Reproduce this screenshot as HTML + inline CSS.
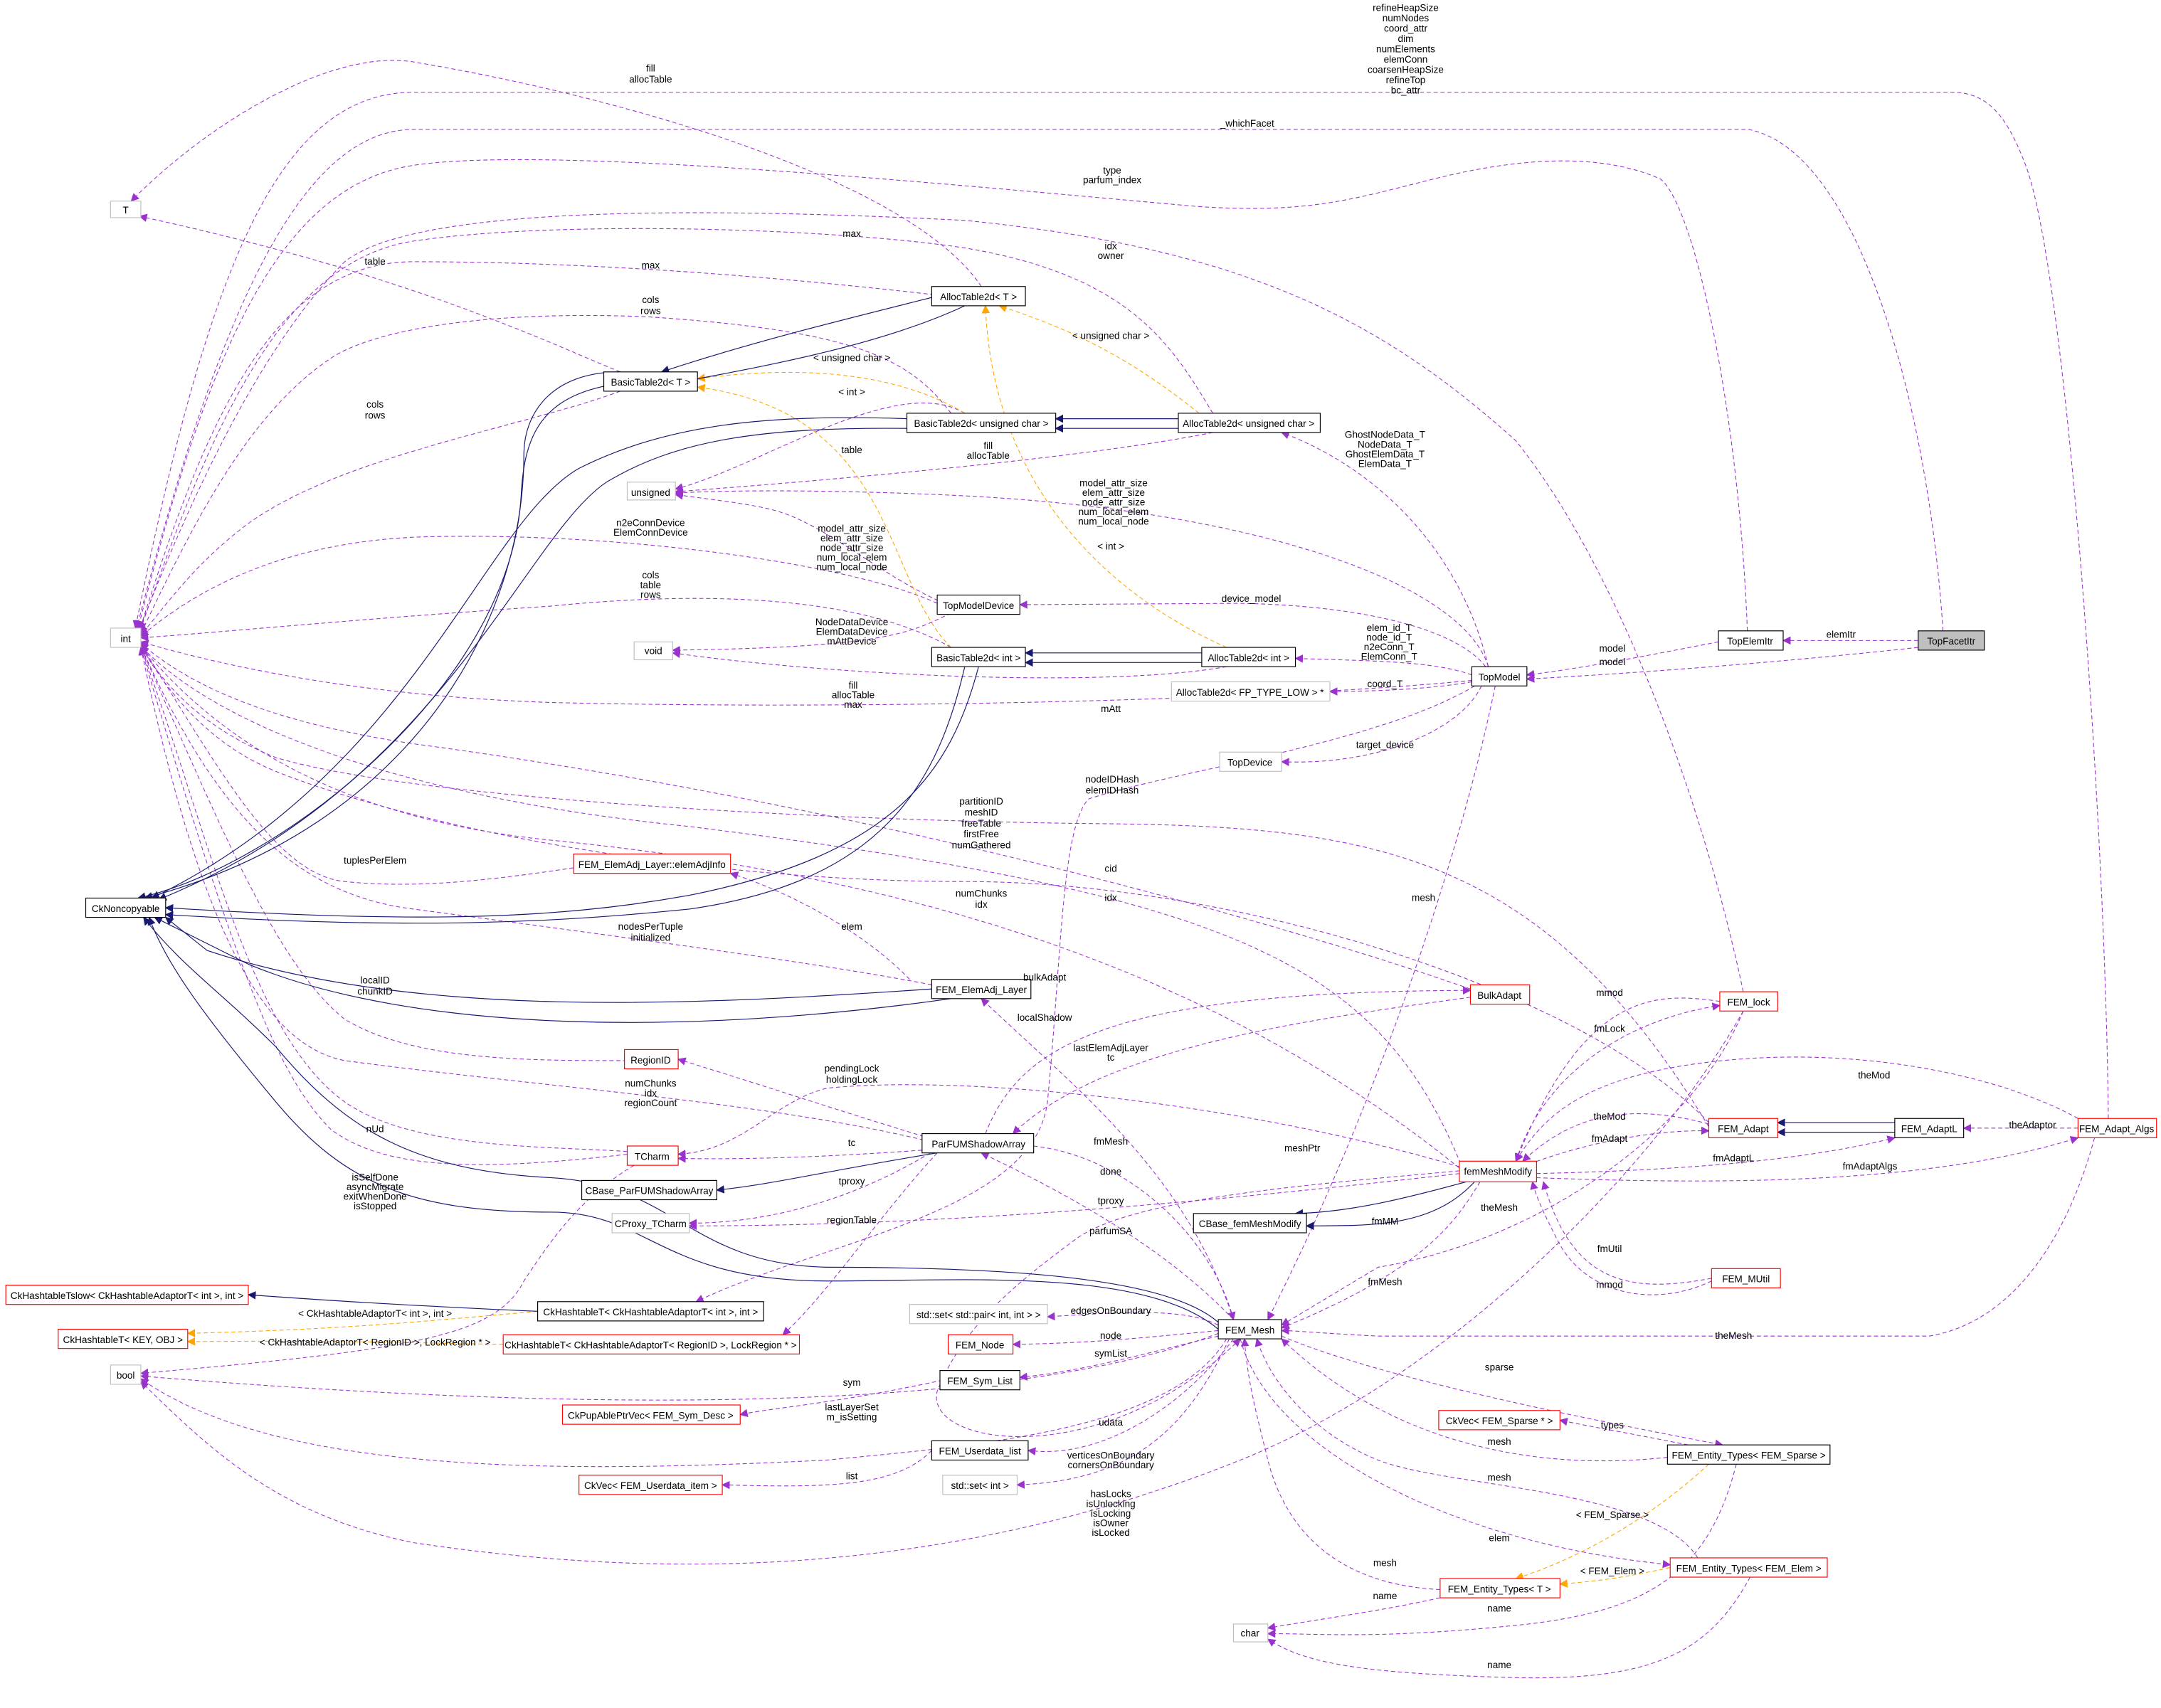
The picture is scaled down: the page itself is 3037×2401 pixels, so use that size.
<!DOCTYPE html>
<html><head><meta charset="utf-8"><style>
html,body{margin:0;padding:0;background:#fff}
svg{display:block}
text{font-family:"Liberation Sans",sans-serif;font-size:7px;fill:#000;text-anchor:middle}
.b{fill:#fff;stroke:#000;stroke-width:0.6}
.r{fill:#fff;stroke:#f00;stroke-width:0.6}
.g{fill:#fff;stroke:#bfbfbf;stroke-width:0.6}
.p{fill:none;stroke:#9a32cd;stroke-width:0.55;stroke-dasharray:3,2}
.o{fill:none;stroke:#ffa500;stroke-width:0.55;stroke-dasharray:3,2}
.n{fill:none;stroke:#191970;stroke-width:0.6}
</style></head><body>
<svg width="3037" height="2401" viewBox="0 0 1568 1240" xmlns="http://www.w3.org/2000/svg">
<defs>
<marker id="mp" viewBox="0 0 10 10" refX="9" refY="5" markerWidth="6" markerHeight="6" orient="auto-start-reverse" markerUnits="userSpaceOnUse"><path d="M0,0L10,5L0,10z" fill="#9a32cd"/></marker>
<marker id="mo" viewBox="0 0 10 10" refX="9" refY="5" markerWidth="6" markerHeight="6" orient="auto-start-reverse" markerUnits="userSpaceOnUse"><path d="M0,0L10,5L0,10z" fill="#ffa500"/></marker>
<marker id="mn" viewBox="0 0 10 10" refX="9" refY="5" markerWidth="6" markerHeight="6" orient="auto-start-reverse" markerUnits="userSpaceOnUse"><path d="M0,0L10,5L0,10z" fill="#191970"/></marker>
</defs>

<g marker-end="url(#mp)">
<path class="p" d="M1530,812 C1528,600 1500,200 1470,120 C1455,80 1440,67 1416,67 L300,67 C200,67 150,200 98,456"/>
<path class="p" d="M1410,458 C1400,300 1350,110 1269,94 L300,94 C220,94 160,220 99,456"/>
<path class="p" d="M1268,458 C1262,300 1230,150 1205,130 C1160,110 1100,115 1040,130 C980,145 950,155 870,150 C700,135 400,105 300,120 C200,135 150,260 100,456"/>
<path class="p" d="M1265,720 C1240,600 1180,420 1100,320 C1000,230 900,180 700,160 C500,150 300,150 250,190 C200,240 150,330 101,457"/>
<path class="p" d="M712,208 C660,130 450,70 300,45 C240,35 150,90 95,146"/>
<path class="p" d="M450,270 C400,250 300,200 101,157"/>
<path class="p" d="M678,214 C600,205 450,190 300,190 C200,190 150,300 101,458"/>
<path class="p" d="M880,300 C850,250 820,200 700,180 C600,165 400,160 300,175 C200,190 150,320 101,459"/>
<path class="p" d="M690,300 C660,260 620,240 470,230 C350,225 270,240 240,260 C180,300 140,380 102,460"/>
<path class="p" d="M450,284 C380,310 250,330 180,380 C140,410 120,440 102,461"/>
<path class="p" d="M690,470 C620,430 500,430 400,440 C250,450 150,460 102,463"/>
<path class="p" d="M680,438 C620,410 450,385 300,390 C200,395 140,430 102,462"/>
<path class="p" d="M1068,494 C900,510 600,515 400,510 C250,505 150,480 102,466"/>
<path class="p" d="M416,630 C350,640 300,645 250,640 C200,635 160,560 102,468"/>
<path class="p" d="M676,715 C600,700 450,680 300,660 C220,650 160,600 102,469"/>
<path class="p" d="M1067,718 C900,660 600,580 300,540 C200,525 140,500 102,467"/>
<path class="p" d="M1059,848 C900,720 700,640 400,610 C250,595 160,540 102,469"/>
<path class="p" d="M1240,815 C1150,720 900,640 700,640 C500,640 300,600 200,560 C150,540 120,500 102,469"/>
<path class="p" d="M1060,845 C1000,700 900,650 500,600 C300,580 160,530 102,469"/>
<path class="p" d="M1240,818 C1120,620 1000,600 800,598 C600,596 300,580 200,550 C150,530 120,500 102,469"/>
<path class="p" d="M680,830 C560,800 400,790 250,770 C200,760 150,700 102,470"/>
<path class="p" d="M455,770 C380,770 300,770 250,740 C200,700 160,600 102,470"/>
<path class="p" d="M455,838 C350,850 280,850 240,820 C200,780 170,700 102,470"/>
<path class="p" d="M455,836 C400,832 300,835 250,800 C180,750 150,600 102,470"/>
</g>
<g marker-end="url(#mp)">
<path class="p" d="M700,300 C650,270 550,340 490,355"/>
<path class="p" d="M880,314 C800,330 650,345 490,357"/>
<path class="p" d="M1080,484 C1060,420 900,370 700,360 C600,355 520,356 490,358"/>
<path class="p" d="M690,440 C640,420 600,380 560,370 C540,365 510,362 490,359"/>
<path class="p" d="M690,445 C660,460 640,470 488,472"/>
<path class="p" d="M890,484 C800,500 600,490 488,474"/>
<path class="p" d="M1078,484 C1060,460 1000,440 900,438 L740,439"/>
<path class="p" d="M1068,490 C1040,480 1000,480 940,478"/>
<path class="p" d="M1080,484 C1060,400 1000,340 930,314"/>
<path class="p" d="M1068,495 C1040,500 1000,502 965,502"/>
<path class="p" d="M1075,498 C1060,530 1000,556 930,553"/>
<path class="p" d="M1247,466 C1200,475 1150,485 1108,490"/>
<path class="p" d="M1392,470 C1300,480 1200,488 1108,493"/>
<path class="p" d="M1392,465 L1294,465"/>
<path class="p" d="M1085,498 C1060,620 1000,800 920,958"/>
<path class="p" d="M1070,498 C1000,540 850,560 790,580 C770,600 770,700 760,800 C750,880 600,900 505,945"/>
<path class="p" d="M660,711 C630,680 580,650 530,634"/>
<path class="p" d="M715,823 C740,760 800,720 1067,719"/>
<path class="p" d="M1067,724 C950,740 800,760 735,823"/>
<path class="p" d="M895,958 C860,850 780,790 712,725"/>
<path class="p" d="M1059,847 C900,800 700,780 600,790 C560,800 540,835 492,838"/>
<path class="p" d="M680,828 C620,810 560,790 492,769"/>
<path class="p" d="M669,835 C600,840 540,842 492,841"/>
<path class="p" d="M675,837 C620,870 560,888 500,888"/>
<path class="p" d="M1059,852 C900,870 700,890 500,890"/>
<path class="p" d="M680,837 C640,880 600,940 568,969"/>
<path class="p" d="M460,846 C420,870 400,900 380,930 C360,970 300,980 102,997"/>
<path class="p" d="M750,832 C820,840 880,900 895,958"/>
<path class="p" d="M895,958 C840,900 760,860 712,837"/>
<path class="p" d="M1059,850 C950,860 820,870 780,900 C740,930 700,960 680,1010 C670,1050 800,1070 900,972"/>
<path class="p" d="M1248,727 C1200,720 1150,720 1100,843"/>
<path class="p" d="M1100,843 C1120,780 1180,740 1248,730"/>
<path class="p" d="M1240,816 C1180,800 1140,810 1105,843"/>
<path class="p" d="M1110,845 C1150,830 1200,820 1240,821"/>
<path class="p" d="M1115,852 C1200,850 1300,845 1375,826"/>
<path class="p" d="M1115,855 C1250,860 1400,860 1508,826"/>
<path class="p" d="M1508,812 C1450,780 1350,760 1250,770 C1150,780 1120,810 1100,843"/>
<path class="p" d="M1508,819 L1425,819"/>
<path class="p" d="M1074,858 C1060,880 1040,920 930,964"/>
<path class="p" d="M1242,928 C1180,940 1140,930 1120,858"/>
<path class="p" d="M1242,930 C1200,950 1150,940 1130,900 C1120,880 1115,870 1112,858"/>
<path class="p" d="M1520,826 C1500,900 1460,960 1400,970 L1000,970 C960,968 940,966 930,966"/>
<path class="p" d="M1265,734 C1230,820 1120,900 1000,920 L930,962"/>
<path class="p" d="M884,962 C860,950 820,952 760,956"/>
<path class="p" d="M884,966 C840,970 800,975 735,976"/>
<path class="p" d="M884,970 C840,980 790,995 740,1000"/>
<path class="p" d="M684,1002 C600,1020 560,1022 537,1027"/>
<path class="p" d="M895,972 C860,1020 800,1060 746,1053"/>
<path class="p" d="M676,1053 C650,1080 600,1080 524,1078"/>
<path class="p" d="M892,972 C860,1040 820,1075 738,1078"/>
<path class="p" d="M884,968 C800,1000 600,1040 102,999"/>
<path class="p" d="M890,972 C850,1040 700,1050 600,1060 C400,1070 200,1070 102,1001"/>
<path class="p" d="M1265,734 C1200,850 1050,1000 900,1060 C700,1140 500,1150 300,1120 C200,1100 150,1050 102,1003"/>
<path class="p" d="M930,970 C1000,1000 1150,1030 1250,1049"/>
<path class="p" d="M1230,1050 C1180,1040 1150,1035 1132,1031"/>
<path class="p" d="M1210,1058 C1100,1070 1000,1040 930,972"/>
<path class="p" d="M1232,1131 C1200,1080 1050,1080 1000,1060 C950,1040 920,1000 912,972"/>
<path class="p" d="M900,972 C920,1050 1050,1120 1212,1136"/>
<path class="p" d="M1045,1154 C960,1150 930,1100 920,1060 C910,1020 905,1000 903,972"/>
<path class="p" d="M1045,1160 C1000,1170 960,1175 920,1182"/>
<path class="p" d="M1260,1063 C1240,1140 1200,1170 1100,1180 C1000,1190 960,1186 920,1186"/>
<path class="p" d="M1270,1145 C1240,1200 1200,1220 1100,1218 C1000,1215 950,1210 920,1190"/>
</g>
<g marker-end="url(#mo)">
<path class="o" d="M870,300 C820,260 780,240 725,222"/>
<path class="o" d="M700,300 C650,270 580,265 506,275"/>
<path class="o" d="M690,470 C640,420 650,300 506,281"/>
<path class="o" d="M890,470 C800,430 720,350 715,222"/>
<path class="o" d="M390,952 C300,960 250,965 136,968"/>
<path class="o" d="M365,976 C300,975 250,973 136,974"/>
<path class="o" d="M1240,1063 C1200,1100 1150,1130 1100,1146"/>
<path class="o" d="M1212,1138 C1180,1145 1160,1148 1132,1150"/>
</g>
<g marker-end="url(#mn)">
<path class="n" d="M676,216 C600,235 540,250 480,270"/>
<path class="n" d="M700,222 C640,250 560,265 490,278"/>
<path class="n" d="M855,304 L766,304"/>
<path class="n" d="M855,311 L766,311"/>
<path class="n" d="M872,474 L744,474"/>
<path class="n" d="M872,481 L744,481"/>
<path class="n" d="M450,270 C400,270 380,300 380,330 C380,450 300,600 105,652"/>
<path class="n" d="M440,280 C390,290 380,320 378,360 C370,500 200,630 100,652"/>
<path class="n" d="M658,304 C550,300 480,310 420,340 C350,380 300,560 110,652"/>
<path class="n" d="M658,311 C550,310 490,320 440,350 C380,390 320,570 115,653"/>
<path class="n" d="M710,484 C690,560 650,620 500,650 C400,668 300,670 120,659"/>
<path class="n" d="M700,484 C680,570 640,640 500,660 C400,670 300,675 120,664"/>
<path class="n" d="M676,718 C500,730 300,740 150,690 L120,666"/>
<path class="n" d="M690,725 C500,752 300,750 180,700 L112,666"/>
<path class="n" d="M884,965 C830,920 700,930 600,930 C480,930 470,880 400,880 C300,880 250,860 200,800 C150,740 120,700 108,666"/>
<path class="n" d="M884,960 C850,930 750,920 600,920 C500,918 490,860 400,855 C300,850 250,820 200,760 C160,720 130,700 104,666"/>
<path class="n" d="M680,837 C600,850 560,860 520,864"/>
<path class="n" d="M390,952 C300,948 250,945 180,940"/>
<path class="n" d="M1064,858 C1020,870 980,880 940,881"/>
<path class="n" d="M1070,858 C1040,890 1000,890 948,890"/>
<path class="n" d="M1375,815 L1290,815"/>
<path class="n" d="M1375,822 L1290,822"/>
</g>

<rect class="g" x="80" y="146" width="22" height="12"/><text x="91" y="155">T</text>
<rect class="g" x="80" y="456" width="22" height="14"/><text x="91" y="466">int</text>
<rect class="g" x="455" y="350" width="35" height="13"/><text x="472" y="360">unsigned</text>
<rect class="g" x="460" y="466" width="28" height="13"/><text x="474" y="475">void</text>
<rect class="g" x="80" y="991" width="22" height="14"/><text x="91" y="1001">bool</text>
<rect class="g" x="895" y="1179" width="25" height="13"/><text x="907" y="1188">char</text>
<rect class="b" x="62" y="652" width="58" height="14"/><text x="91" y="662">CkNoncopyable</text>
<rect class="b" x="676" y="208" width="68" height="14"/><text x="710" y="218">AllocTable2d&lt; T &gt;</text>
<rect class="b" x="438" y="270" width="68" height="14"/><text x="472" y="280">BasicTable2d&lt; T &gt;</text>
<rect class="b" x="658" y="300" width="108" height="14"/><text x="712" y="310">BasicTable2d&lt; unsigned char &gt;</text>
<rect class="b" x="855" y="300" width="103" height="14"/><text x="906" y="310">AllocTable2d&lt; unsigned char &gt;</text>
<rect class="b" x="680" y="432" width="60" height="14"/><text x="710" y="442">TopModelDevice</text>
<rect class="b" x="676" y="470" width="68" height="14"/><text x="710" y="480">BasicTable2d&lt; int &gt;</text>
<rect class="b" x="872" y="470" width="68" height="14"/><text x="906" y="480">AllocTable2d&lt; int &gt;</text>
<rect class="g" x="850" y="495" width="115" height="14"/><text x="907" y="505">AllocTable2d&lt; FP_TYPE_LOW &gt; *</text>
<rect class="g" x="885" y="546" width="45" height="14"/><text x="907" y="556">TopDevice</text>
<rect class="b" x="1068" y="484" width="40" height="14"/><text x="1088" y="494">TopModel</text>
<rect class="b" x="1247" y="458" width="47" height="14"/><text x="1270" y="468">TopElemItr</text>
<rect x="1392" y="458" width="48" height="14" fill="#bfbfbf" stroke="#000" stroke-width="0.6"/><text x="1416" y="468">TopFacetItr</text>
<rect class="r" x="416" y="620" width="114" height="14"/><text x="473" y="630">FEM_ElemAdj_Layer::elemAdjInfo</text>
<rect class="b" x="676" y="711" width="72" height="14"/><text x="712" y="721">FEM_ElemAdj_Layer</text>
<rect class="r" x="1067" y="715" width="43" height="14"/><text x="1088" y="725">BulkAdapt</text>
<rect class="r" x="1248" y="720" width="42" height="14"/><text x="1269" y="730">FEM_lock</text>
<rect class="r" x="453" y="762" width="39" height="14"/><text x="472" y="772">RegionID</text>
<rect class="b" x="669" y="823" width="81" height="14"/><text x="710" y="833">ParFUMShadowArray</text>
<rect class="r" x="455" y="832" width="37" height="14"/><text x="473" y="842">TCharm</text>
<rect class="b" x="422" y="857" width="98" height="14"/><text x="471" y="867">CBase_ParFUMShadowArray</text>
<rect class="g" x="444" y="881" width="56" height="14"/><text x="472" y="891">CProxy_TCharm</text>
<rect class="r" x="1059" y="843" width="56" height="15"/><text x="1087" y="853">femMeshModify</text>
<rect class="r" x="1240" y="812" width="50" height="14"/><text x="1265" y="822">FEM_Adapt</text>
<rect class="b" x="1375" y="812" width="50" height="14"/><text x="1400" y="822">FEM_AdaptL</text>
<rect class="r" x="1508" y="812" width="57" height="14"/><text x="1536" y="822">FEM_Adapt_Algs</text>
<rect class="b" x="866" y="881" width="82" height="14"/><text x="907" y="891">CBase_femMeshModify</text>
<rect class="r" x="1242" y="921" width="50" height="14"/><text x="1267" y="931">FEM_MUtil</text>
<rect class="r" x="4" y="933" width="176" height="14"/><text x="92" y="943">CkHashtableTslow&lt; CkHashtableAdaptorT&lt; int &gt;, int &gt;</text>
<rect class="r" x="42" y="965" width="94" height="14"/><text x="89" y="975">CkHashtableT&lt; KEY, OBJ &gt;</text>
<rect class="b" x="390" y="945" width="164" height="14"/><text x="472" y="955">CkHashtableT&lt; CkHashtableAdaptorT&lt; int &gt;, int &gt;</text>
<rect class="r" x="365" y="969" width="215" height="14"/><text x="472" y="979">CkHashtableT&lt; CkHashtableAdaptorT&lt; RegionID &gt;, LockRegion * &gt;</text>
<rect class="g" x="660" y="947" width="100" height="14"/><text x="710" y="957">std::set&lt; std::pair&lt; int, int &gt; &gt;</text>
<rect class="r" x="688" y="969" width="47" height="14"/><text x="711" y="979">FEM_Node</text>
<rect class="b" x="884" y="958" width="46" height="14"/><text x="907" y="968">FEM_Mesh</text>
<rect class="b" x="682" y="995" width="58" height="14"/><text x="711" y="1005">FEM_Sym_List</text>
<rect class="r" x="408" y="1020" width="129" height="14"/><text x="472" y="1030">CkPupAblePtrVec&lt; FEM_Sym_Desc &gt;</text>
<rect class="b" x="676" y="1046" width="70" height="14"/><text x="711" y="1056">FEM_Userdata_list</text>
<rect class="r" x="420" y="1071" width="104" height="14"/><text x="472" y="1081">CkVec&lt; FEM_Userdata_item &gt;</text>
<rect class="g" x="684" y="1071" width="54" height="14"/><text x="711" y="1081">std::set&lt; int &gt;</text>
<rect class="r" x="1044" y="1024" width="88" height="14"/><text x="1088" y="1034">CkVec&lt; FEM_Sparse * &gt;</text>
<rect class="b" x="1210" y="1049" width="118" height="14"/><text x="1269" y="1059">FEM_Entity_Types&lt; FEM_Sparse &gt;</text>
<rect class="r" x="1212" y="1131" width="114" height="14"/><text x="1269" y="1141">FEM_Entity_Types&lt; FEM_Elem &gt;</text>
<rect class="r" x="1045" y="1146" width="87" height="14"/><text x="1088" y="1156">FEM_Entity_Types&lt; T &gt;</text>

<text x="1020" y="8">refineHeapSize</text><text x="1020" y="15.5">numNodes</text><text x="1020" y="23">coord_attr</text><text x="1020" y="30.5">dim</text><text x="1020" y="38">numElements</text><text x="1020" y="45.5">elemConn</text><text x="1020" y="53">coarsenHeapSize</text><text x="1020" y="60.5">refineTop</text><text x="1020" y="68">bc_attr</text>
<text x="905" y="92">_whichFacet</text>
<text x="807" y="126">type</text><text x="807" y="133">parfum_index</text>
<text x="472" y="52">fill</text><text x="472" y="60">allocTable</text>
<text x="806" y="181">idx</text><text x="806" y="188">owner</text>
<text x="272" y="192">table</text>
<text x="472" y="195">max</text>
<text x="618" y="172">max</text>
<text x="472" y="220">cols</text><text x="472" y="228">rows</text>
<text x="272" y="296">cols</text><text x="272" y="304">rows</text>
<text x="806" y="246">&lt; unsigned char &gt;</text>
<text x="618" y="262">&lt; unsigned char &gt;</text>
<text x="618" y="287">&lt; int &gt;</text>
<text x="618" y="329">table</text>
<text x="717" y="326">fill</text><text x="717" y="333">allocTable</text>
<text x="1005" y="318">GhostNodeData_T</text><text x="1005" y="325">NodeData_T</text><text x="1005" y="332">GhostElemData_T</text><text x="1005" y="339">ElemData_T</text>
<text x="808" y="353">model_attr_size</text><text x="808" y="360">elem_attr_size</text><text x="808" y="367">node_attr_size</text><text x="808" y="374">num_local_elem</text><text x="808" y="381">num_local_node</text>
<text x="618" y="386">model_attr_size</text><text x="618" y="393">elem_attr_size</text><text x="618" y="400">node_attr_size</text><text x="618" y="407">num_local_elem</text><text x="618" y="414">num_local_node</text>
<text x="472" y="382">n2eConnDevice</text><text x="472" y="389">ElemConnDevice</text>
<text x="806" y="399">&lt; int &gt;</text>
<text x="472" y="420">cols</text><text x="472" y="427">table</text><text x="472" y="434">rows</text>
<text x="908" y="437">device_model</text>
<text x="618" y="454">NodeDataDevice</text><text x="618" y="461">ElemDataDevice</text><text x="618" y="468">mAttDevice</text>
<text x="1008" y="458">elem_id_T</text><text x="1008" y="465">node_id_T</text><text x="1008" y="472">n2eConn_T</text><text x="1008" y="479">ElemConn_T</text>
<text x="619" y="500">fill</text><text x="619" y="507">allocTable</text><text x="619" y="514">max</text>
<text x="1005" y="499">coord_T</text>
<text x="806" y="517">mAtt</text>
<text x="1170" y="473">model</text>
<text x="1170" y="483">model</text>
<text x="1336" y="463">elemItr</text>
<text x="1005" y="543">target_device</text>
<text x="807" y="568">nodeIDHash</text><text x="807" y="576">elemIDHash</text>
<text x="712" y="584">partitionID</text><text x="712" y="592">meshID</text><text x="712" y="600">freeTable</text><text x="712" y="608">firstFree</text><text x="712" y="616">numGathered</text>
<text x="806" y="633">cid</text>
<text x="272" y="627">tuplesPerElem</text>
<text x="806" y="654">idx</text>
<text x="1033" y="654">mesh</text>
<text x="712" y="651">numChunks</text><text x="712" y="659">idx</text>
<text x="618" y="675">elem</text>
<text x="472" y="675">nodesPerTuple</text><text x="472" y="683">initialized</text>
<text x="272" y="714">localID</text><text x="272" y="722">chunkID</text>
<text x="758" y="712">bulkAdapt</text>
<text x="758" y="741">localShadow</text>
<text x="1168" y="723">mmod</text>
<text x="1168" y="749">fmLock</text>
<text x="806" y="770">tc</text>
<text x="806" y="763">lastElemAdjLayer</text>
<text x="618" y="778">pendingLock</text><text x="618" y="786">holdingLock</text>
<text x="472" y="789">numChunks</text><text x="472" y="796">idx</text><text x="472" y="803">regionCount</text>
<text x="1360" y="783">theMod</text>
<text x="1168" y="813">theMod</text>
<text x="1475" y="819">theAdaptor</text>
<text x="272" y="822">nUd</text>
<text x="806" y="831">fmMesh</text>
<text x="945" y="836">meshPtr</text>
<text x="1168" y="829">fmAdapt</text>
<text x="618" y="832">tc</text>
<text x="1258" y="843">fmAdaptL</text>
<text x="1357" y="849">fmAdaptAlgs</text>
<text x="806" y="853">done</text>
<text x="272" y="857">isSelfDone</text><text x="272" y="864">asyncMigrate</text><text x="272" y="871">exitWhenDone</text><text x="272" y="878">isStopped</text>
<text x="618" y="860">tproxy</text>
<text x="1088" y="879">theMesh</text>
<text x="806" y="874">tproxy</text>
<text x="1005" y="889">fmMM</text>
<text x="618" y="888">regionTable</text>
<text x="806" y="896">parfumSA</text>
<text x="1168" y="909">fmUtil</text>
<text x="1005" y="933">fmMesh</text>
<text x="1168" y="935">mmod</text>
<text x="272" y="956">&lt; CkHashtableAdaptorT&lt; int &gt;, int &gt;</text>
<text x="806" y="954">edgesOnBoundary</text>
<text x="1258" y="972">theMesh</text>
<text x="272" y="977">&lt; CkHashtableAdaptorT&lt; RegionID &gt;, LockRegion * &gt;</text>
<text x="806" y="972">node</text>
<text x="806" y="985">symList</text>
<text x="1088" y="995">sparse</text>
<text x="618" y="1006">sym</text>
<text x="618" y="1024">lastLayerSet</text><text x="618" y="1031">m_isSetting</text>
<text x="806" y="1035">udata</text>
<text x="1170" y="1037">types</text>
<text x="1088" y="1049">mesh</text>
<text x="806" y="1059">verticesOnBoundary</text><text x="806" y="1066">cornersOnBoundary</text>
<text x="618" y="1074">list</text>
<text x="1088" y="1075">mesh</text>
<text x="806" y="1087">hasLocks</text><text x="806" y="1094">isUnlocking</text><text x="806" y="1101">isLocking</text><text x="806" y="1108">isOwner</text><text x="806" y="1115">isLocked</text>
<text x="1170" y="1102">&lt; FEM_Sparse &gt;</text>
<text x="1088" y="1119">elem</text>
<text x="1005" y="1137">mesh</text>
<text x="1170" y="1143">&lt; FEM_Elem &gt;</text>
<text x="1005" y="1161">name</text>
<text x="1088" y="1170">name</text>
<text x="1088" y="1211">name</text>
</svg>
</body></html>
